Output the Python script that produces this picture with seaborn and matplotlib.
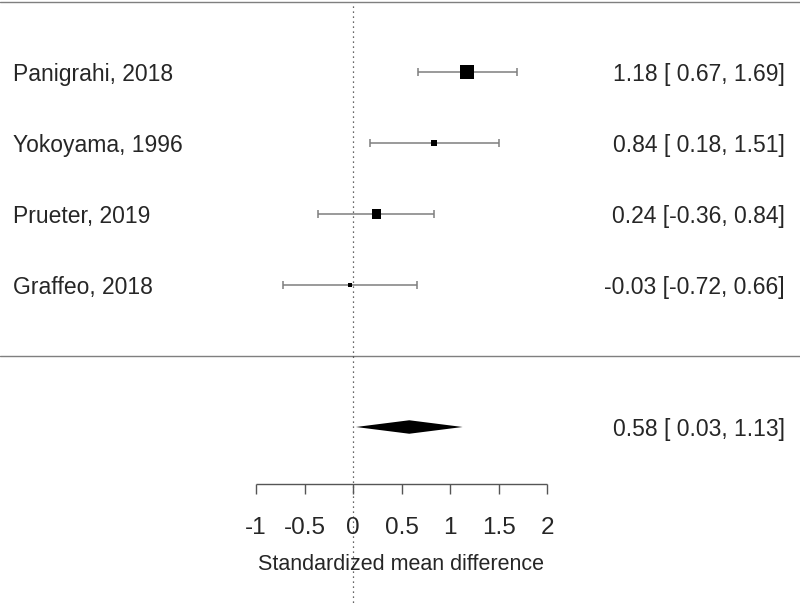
import matplotlib
matplotlib.use("Agg")
import matplotlib.pyplot as plt
import pandas as pd
import seaborn as sns

studies = ["Panigrahi, 2018", "Yokoyama, 1996", "Prueter, 2019", "Graffeo, 2018"]
estimates = [1.18, 0.84, 0.24, -0.03]
ci_lower = [0.67, 0.18, -0.36, -0.72]
ci_upper = [1.69, 1.51, 0.84, 0.66]
weights = [14, 6, 9.5, 4]  # relative box size

pooled = 0.58
pooled_lower = 0.03
pooled_upper = 1.13

ticks = [-1, -0.5, 0, 0.5, 1, 1.5, 2]
tick_labels = ["-1", "-0.5", "0", "0.5", "1", "1.5", "2"]
xlabel = "Standardized mean difference"

sns.set_style("white")
plt.rcParams["font.family"] = ["Liberation Sans", "DejaVu Sans"]

df = pd.DataFrame({
    "study": studies,
    "est": estimates,
    "lo": ci_lower,
    "hi": ci_upper,
    "w": weights,
})
df["row"] = list(range(len(df), 0, -1))

fig = plt.figure(figsize=(8, 6.03), dpi=100)
ax = fig.add_axes([0, 0, 1, 1])
ax.set_xlim(-353 / 97, (800 - 353) / 97)
ax.set_ylim(4 - 531 / 71, 4 + 72 / 71)
ax.axis("off")

grey = "#7f7f7f"
# horizontal rules
ax.axhline(4.99, color=grey, lw=1.0)
ax.axhline(0, color=grey, lw=1.0)

# reference line at 0
ax.plot([0, 0], [4.93, 4 - 531 / 71], color="#333333", lw=0.9, ls=(0, (1, 3)))

# confidence intervals
ax.hlines(df["row"], df["lo"], df["hi"], color=grey, lw=1.1)
ax.vlines(df["lo"], df["row"] - 0.055, df["row"] + 0.055, color=grey, lw=1.1)
ax.vlines(df["hi"], df["row"] - 0.055, df["row"] + 0.055, color=grey, lw=1.1)

# squares sized by weight
sizes = [(w * 0.72) ** 2 for w in df["w"]]
sns.scatterplot(data=df, x="est", y="row", marker="s", s=sizes, color="black",
                edgecolor="black", linewidth=0, ax=ax, legend=False, zorder=3)

# summary diamond
ax.fill([pooled_lower, pooled, pooled_upper, pooled],
        [-1, -1 + 0.095, -1, -1 - 0.095], color="black", lw=0, zorder=3)

fs = 16.5
for _, r in df.iterrows():
    ax.text(-3.5, r["row"] - 0.03, r["study"], ha="left", va="center", fontsize=fs)
    ax.text(4.45, r["row"] - 0.03, f"{r['est']:.2f} [{r['lo']:5.2f}, {r['hi']:.2f}]",
            ha="right", va="center", fontsize=fs)
ax.text(4.45, -1.03, f"{pooled:.2f} [{pooled_lower:5.2f}, {pooled_upper:.2f}]",
        ha="right", va="center", fontsize=fs)

# x axis drawn below the summary
axis_y = -1.8
ax.hlines(axis_y, ticks[0], ticks[-1], color="#555555", lw=1.0)
ax.vlines(ticks, axis_y - 0.14, axis_y, color="#555555", lw=1.0)
for t, lab in zip(ticks, tick_labels):
    ax.text(t, axis_y - 0.62, lab, ha="center", va="center", fontsize=17.5)
ax.text(0.5, axis_y - 1.14, xlabel, ha="center", va="center", fontsize=15.5)

fig.savefig("out.png", dpi=100)
